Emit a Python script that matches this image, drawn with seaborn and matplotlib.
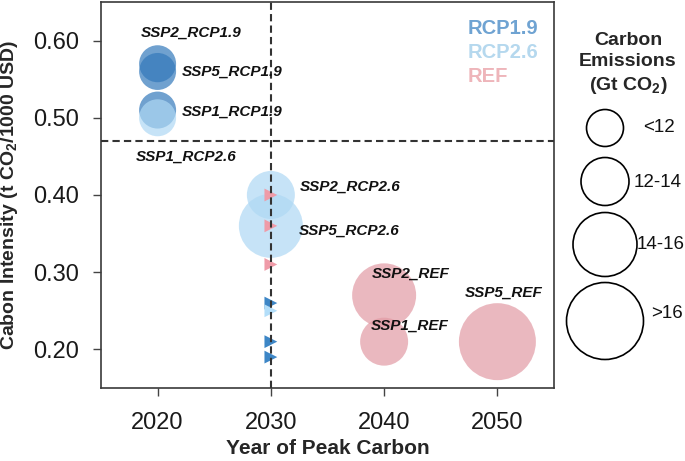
import pandas as pd
import matplotlib
matplotlib.use("Agg")
import matplotlib.pyplot as plt
import seaborn as sns

# bubble data (scenario peaks)
scenarios = ['SSP2_RCP1.9', 'SSP5_RCP1.9', 'SSP1_RCP1.9', 'SSP1_RCP2.6',
             'SSP2_RCP2.6', 'SSP5_RCP2.6', 'SSP2_REF', 'SSP1_REF', 'SSP5_REF']
peak_year = [2020, 2020, 2020, 2020, 2030, 2030, 2040, 2040, 2050]
intensity = [0.57, 0.56, 0.51, 0.50, 0.40, 0.36, 0.27, 0.21, 0.21]
pathway = ['RCP1.9', 'RCP1.9', 'RCP1.9', 'RCP2.6', 'RCP2.6', 'RCP2.6',
           'REF', 'REF', 'REF']
emissions = ['<12', '<12', '<12', '<12', '12-14', '14-16', '14-16', '12-14', '>16']

# small triangle markers on the 2030 line
tri_year = [2030, 2030, 2030, 2030, 2030, 2030, 2030]
tri_intensity = [0.40, 0.36, 0.31, 0.26, 0.25, 0.21, 0.19]
tri_pathway = ['REF', 'REF', 'REF', 'RCP1.9', 'RCP2.6', 'RCP1.9', 'RCP1.9']

pathway_order = ['RCP1.9', 'RCP2.6', 'REF']
emission_levels = ['<12', '12-14', '14-16', '>16']
x_ticks = [2020, 2030, 2040, 2050]
y_ticks = [0.20, 0.30, 0.40, 0.50, 0.60]

bubbles = pd.DataFrame({'scenario': scenarios, 'year': peak_year,
                        'intensity': intensity, 'pathway': pathway,
                        'emissions': emissions})
tris = pd.DataFrame({'year': tri_year, 'intensity': tri_intensity,
                     'pathway': tri_pathway})

sns.set_style('ticks')
plt.rcParams['font.family'] = ['Liberation Sans', 'DejaVu Sans']
plt.rcParams['mathtext.fontset'] = 'custom'
plt.rcParams['mathtext.rm'] = 'Liberation Sans'
plt.rcParams['mathtext.bf'] = 'Liberation Sans:bold'
plt.rcParams['mathtext.it'] = 'Liberation Sans:italic'

bubble_pal = {'RCP1.9': '#3379bb', 'RCP2.6': '#aed8f4', 'REF': '#e29ba5'}
tri_pal = {'RCP1.9': '#3d86c6', 'RCP2.6': '#b3def9', 'REF': '#ef9ba8'}
text_pal = {'RCP1.9': '#6fa3d2', 'RCP2.6': '#b5d8ee', 'REF': '#eeb5ba'}
size_map = {'<12': 709, '12-14': 1194, '14-16': 2123, '>16': 3073}

fig = plt.figure(figsize=(6.85, 4.61), dpi=100)
ax = fig.add_axes([0.1474, 0.1584, 0.6614, 0.8373])

sns.scatterplot(data=bubbles, x='year', y='intensity', hue='pathway',
                hue_order=pathway_order, palette=bubble_pal,
                size='emissions', size_order=emission_levels, sizes=size_map,
                alpha=0.7, edgecolor='none', linewidth=0, legend=False,
                ax=ax, zorder=2)
sns.scatterplot(data=tris, x='year', y='intensity', hue='pathway',
                hue_order=pathway_order, palette=tri_pal, marker='>', s=85,
                edgecolor='none', linewidth=0, legend=False, ax=ax, zorder=3)

ax.axvline(2030, ls=(0, (3.5, 2)), color='#333333', lw=1.5, zorder=4)
ax.axhline(0.47, ls=(0, (3.5, 2)), color='#333333', lw=1.5, zorder=4)

# scenario labels, offsets in pixels from each bubble
label_offsets = [(-17, 31), (24, 0), (24, -2), (-22, -39), (29, 8),
                 (28, -5), (-12, 22), (-13, 16), (-33, 49)]
for name, x, y, off in zip(scenarios, peak_year, intensity, label_offsets):
    ax.annotate(name, (x, y), xytext=off, textcoords='offset pixels',
                ha='left', va='center', fontsize=11, fontweight='bold',
                style='italic', color='#111111', zorder=5)

ax.set_xlim(2015, 2055)
ax.set_ylim(0.15, 0.65)
ax.set_xticks(x_ticks)
ax.set_yticks(y_ticks)
ax.set_yticklabels([f'{v:.2f}' for v in y_ticks])
ax.tick_params(axis='both', labelsize=17, length=6, width=1,
               color='#444444', labelcolor='#1a1a1a')
ax.tick_params(axis='x', pad=11)
ax.tick_params(axis='y', pad=10)
for sp in ax.spines.values():
    sp.set_color('#3a3a3a')
    sp.set_linewidth(1.2)
ax.set_xlabel('Year of Peak Carbon', fontsize=15, fontweight='bold', labelpad=4)
ax.set_ylabel(r'Cabon Intensity (t CO$_\mathbf{2}$/1000 USD)', fontsize=14,
              fontweight='bold', labelpad=9)

# colour key
for i, p in enumerate(pathway_order):
    fig.text(468 / 685, 1 - (29 + 24 * i) / 461, p, color=text_pal[p],
             fontsize=14.5, fontweight='bold', ha='left', va='center')

# size key drawn on an overlay in pixel space
lax = fig.add_axes([0, 0, 1, 1], facecolor='none')
lax.set_xlim(0, 685)
lax.set_ylim(461, 0)
lax.axis('off')
fig.text(628 / 685, 1 - 64 / 461, 'Carbon\nEmissions\n(Gt CO$_\\mathbf{2}$)',
         ha='center', va='center', fontsize=14, fontweight='bold',
         linespacing=1.3)
key_y = [128, 181.5, 244.5, 321]
key_label_x = [643, 634, 637, 651]
key_label_y = [127, 182, 244, 313]
lax.scatter([605] * 4, key_y, s=[size_map[k] for k in emission_levels],
            facecolors='none', edgecolors='black', linewidths=1.2)
for lvl, lx, ly in zip(emission_levels, key_label_x, key_label_y):
    lax.text(lx, ly, lvl, ha='left', va='center', fontsize=13.5,
             color='#111111')

fig.savefig('out.png', dpi=100)
